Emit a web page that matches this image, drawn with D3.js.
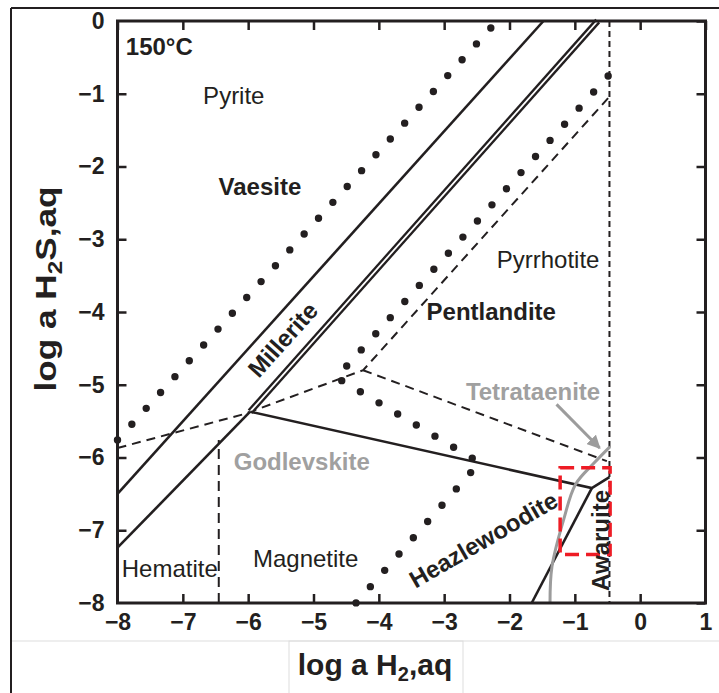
<!DOCTYPE html>
<html>
  <head>
    <script src="https://cdnjs.cloudflare.com/ajax/libs/d3/7.8.5/d3.min.js"></script>
    <style>
      body { margin: 0; background: #fff; }
      svg { display: block; font-family: "Liberation Sans", Arial, sans-serif; }
      .tick text { font-family: "Liberation Sans Narrow", "Liberation Sans", Arial, sans-serif; font-weight: bold; font-size: 23px; fill: #231f20; }
      .tick line { stroke: #231f20; stroke-width: 2.5; }
      path.solid { fill: none; stroke: #231f20; stroke-width: 2.6; }
      path.dashed { fill: none; stroke: #231f20; stroke-width: 2; stroke-dasharray: 9 6; }
      path.dotted { fill: none; stroke: #231f20; stroke-width: 7.4; stroke-linecap: round; }
      path.gray { fill: none; stroke: #9c9c9c; stroke-width: 3; }
      text.phase { font-size: 24px; fill: #231f20; }
      text.bold { font-weight: bold; }
      text.grey { fill: #a0a0a0; }
    </style>
  </head>
  <body>
    <svg width="719" height="693"></svg>
    <script>
      // axis ranges and ticks
      var xDomain = [-8, 1];
      var yDomain = [-8, 0];
      var xTicks = [-8, -7, -6, -5, -4, -3, -2, -1, 0, 1];
      var yTicks = [0, -1, -2, -3, -4, -5, -6, -7, -8];

      // boundaries (log a H2, log a H2S)
      var solidA = [[-8, -6.5], [-1.48, 0]];
      var solidLower = [[-8, -7.24], [-5.97, -5.37]];
      var doubleLine = [[-5.97, -5.37], [-0.65, 0]];
      var solidHzl = [[-5.97, -5.37], [-0.74, -6.42], [-0.47, -6.27]];
      var solidAwr = [[-0.74, -6.42], [-1.66, -8]];
      var dashMain = [[-8, -5.87], [-6.05, -5.4], [-4.24, -4.8], [-0.47, -1.04]];
      var dashBranch = [[-4.24, -4.8], [-0.51, -6.05]];
      var dashHem = [[-6.45, -8], [-6.45, -5.76]];
      var dashPo = [[-0.47, 0], [-0.47, -8]];
      var dotA = [[-8, -5.76], [-2.285, -0.096]];
      var dotB = [[-0.49, -0.755], [-4.65, -4.9], [-2.46, -6.07], [-4.35, -8]];
      var grayCurve = [[-1.38, -8], [-1.35, -7.5], [-1.17, -6.85], [-0.99, -6.37], [-0.71, -6.08], [-0.46, -5.85]];
      var arrowLine = [[-1.28, -5.27], [-0.62, -5.87]];
      var redBox = [[-1.225, -6.14], [-0.46, -7.335]];

      // phase names: [text, x, y, rotation, class]
      var labels = [
        ["150°C", -7.36, -0.47, 0, "bold"],
        ["Pyrite", -6.22, -1.14, 0, ""],
        ["Vaesite", -5.82, -2.39, 0, "bold"],
        ["Pyrrhotite", -1.41, -3.39, 0, ""],
        ["Pentlandite", -2.28, -4.11, 0, "bold"],
        ["Godlevskite", -5.18, -6.17, 0, "bold grey"],
        ["Tetrataenite", -1.64, -5.21, 0, "bold grey"],
        ["Hematite", -7.2, -7.64, 0, ""],
        ["Magnetite", -5.12, -7.5, 0, ""],
        ["Millerite", -5.47, -4.38, -48, "bold"],
        ["Heazlewoodite", -2.4, -7.13, -30, "bold"],
        ["Awaruite", -0.61, -7.14, -90, "bold"]
      ];

      var svg = d3.select("svg");

      var x = d3.scaleLinear().domain(xDomain).range([117.5, 705.5]);
      var y = d3.scaleLinear().domain(yDomain).range([603, 21]);
      var line = d3.line().x(d => x(d[0])).y(d => y(d[1]));

      // outer figure frame
      svg.append("line").attr("x1", 11).attr("x2", 11).attr("y1", 8).attr("y2", 693)
        .attr("stroke", "#231f20").attr("stroke-width", 2);
      svg.append("line").attr("x1", 11).attr("x2", 719).attr("y1", 8).attr("y2", 8)
        .attr("stroke", "#231f20").attr("stroke-width", 2);
      svg.append("line").attr("x1", 12).attr("x2", 719).attr("y1", 641).attr("y2", 641)
        .attr("stroke", "#dddddd").attr("stroke-width", 1);
      svg.append("rect").attr("x", 289).attr("y", 641).attr("width", 174).attr("height", 60)
        .attr("fill", "none").attr("stroke", "#dddddd").attr("stroke-width", 1);

      var g = svg.append("g");

      // dotted boundaries, dots spread evenly so both ends get one
      g.selectAll("path.dotted").data([dotA, dotB]).enter().append("path")
        .attr("class", "dotted").attr("d", line)
        .each(function () {
          var len = this.getTotalLength();
          var n = Math.round(len / 21.4);
          d3.select(this).style("stroke-dasharray", "0 " + ((len - 0.1) / n));
        });

      g.append("path").datum(dashMain).attr("class", "dashed").attr("d", line);
      g.append("path").datum(dashBranch).attr("class", "dashed").attr("d", line);
      g.append("path").datum(dashHem).attr("class", "dashed").attr("d", line).style("stroke-dasharray", "10 6");
      g.append("path").datum(dashPo).attr("class", "dashed").attr("d", line).style("stroke-dasharray", "6 4");

      g.append("path").datum(solidA).attr("class", "solid").attr("d", line);
      g.append("path").datum(solidLower).attr("class", "solid").attr("d", line);
      g.append("path").datum(doubleLine).attr("class", "solid").attr("d", line).style("stroke-width", 6.4);
      g.append("path").datum(doubleLine).attr("d", line).attr("fill", "none").attr("stroke", "#fff").attr("stroke-width", 1.8);
      g.append("path").datum(solidHzl).attr("class", "solid").attr("d", line);
      g.append("path").datum(solidAwr).attr("class", "solid").attr("d", line);

      g.append("path").datum(grayCurve).attr("class", "gray")
        .attr("d", d3.line().x(d => x(d[0])).y(d => y(d[1])).curve(d3.curveCatmullRom));

      // grey arrow to the tetrataenite field
      svg.append("defs").append("marker")
        .attr("id", "head").attr("viewBox", "0 0 10 10").attr("refX", 9).attr("refY", 5)
        .attr("markerWidth", 4.5).attr("markerHeight", 4.5).attr("orient", "auto")
        .append("path").attr("d", "M0,0L10,5L0,10Z").attr("fill", "#9c9c9c");
      g.append("path").datum(arrowLine).attr("class", "gray").attr("d", line)
        .attr("marker-end", "url(#head)");

      g.append("rect")
        .attr("x", x(redBox[0][0])).attr("y", y(redBox[0][1]))
        .attr("width", x(redBox[1][0]) - x(redBox[0][0]))
        .attr("height", y(redBox[1][1]) - y(redBox[0][1]))
        .attr("fill", "none").attr("stroke", "#ee1c25").attr("stroke-width", 3.5)
        .attr("stroke-dasharray", "14 7");

      // labels
      g.selectAll("text.phase").data(labels).enter().append("text")
        .attr("class", d => "phase " + d[4])
        .attr("text-anchor", "middle")
        .attr("dy", d => d[3] ? "0.35em" : 0)
        .attr("transform", d => "translate(" + x(d[1]) + "," + y(d[2]) + ") rotate(" + d[3] + ")")
        .text(d => d[0]);

      // axes, ticks point inward
      var fmt = d3.format("d");
      svg.append("g").attr("transform", "translate(0,603)")
        .call(d3.axisBottom(x).tickValues(xTicks).tickSizeInner(-9).tickSizeOuter(0).tickPadding(11).tickFormat(fmt))
        .call(a => a.select(".domain").remove())
        .call(a => a.selectAll(".tick line").filter(d => d === -8 || d === 1).remove());
      svg.append("g").attr("transform", "translate(0,21)")
        .call(d3.axisTop(x).tickValues(xTicks).tickSizeInner(-9).tickSizeOuter(0).tickFormat(""))
        .call(a => a.select(".domain").remove());
      svg.append("g").attr("transform", "translate(117.5,0)")
        .call(d3.axisLeft(y).tickValues(yTicks).tickSizeInner(-9).tickSizeOuter(0).tickPadding(13).tickFormat(fmt))
        .call(a => a.select(".domain").remove())
        .call(a => a.selectAll(".tick line").filter(d => d === 0 || d === -8).remove());
      svg.append("g").attr("transform", "translate(705.5,0)")
        .call(d3.axisRight(y).tickValues(yTicks).tickSizeInner(-9).tickSizeOuter(0).tickFormat(""))
        .call(a => a.select(".domain").remove());

      svg.append("rect")
        .attr("x", x(xDomain[0])).attr("y", y(yDomain[1]))
        .attr("width", x(xDomain[1]) - x(xDomain[0]))
        .attr("height", y(yDomain[0]) - y(yDomain[1]))
        .attr("fill", "none").attr("stroke", "#231f20").attr("stroke-width", 3);

      // axis titles
      var xt = svg.append("text").attr("x", 375).attr("y", 675).attr("text-anchor", "middle")
        .style("font-weight", "bold").style("font-size", "30px").attr("fill", "#231f20");
      xt.append("tspan").text("log a H");
      xt.append("tspan").attr("dy", 6).style("font-size", "20px").text("2");
      xt.append("tspan").attr("dy", -6).text(",aq");

      var yt = svg.append("text").attr("transform", "translate(56,289) rotate(-90)").attr("text-anchor", "middle")
        .attr("textLength", 205).attr("lengthAdjust", "spacingAndGlyphs")
        .style("font-weight", "bold").style("font-size", "29px").attr("fill", "#231f20");
      yt.append("tspan").text("log a H");
      yt.append("tspan").attr("dy", 6).style("font-size", "20px").text("2");
      yt.append("tspan").attr("dy", -6).text("S,aq");
    </script>
  </body>
</html>
